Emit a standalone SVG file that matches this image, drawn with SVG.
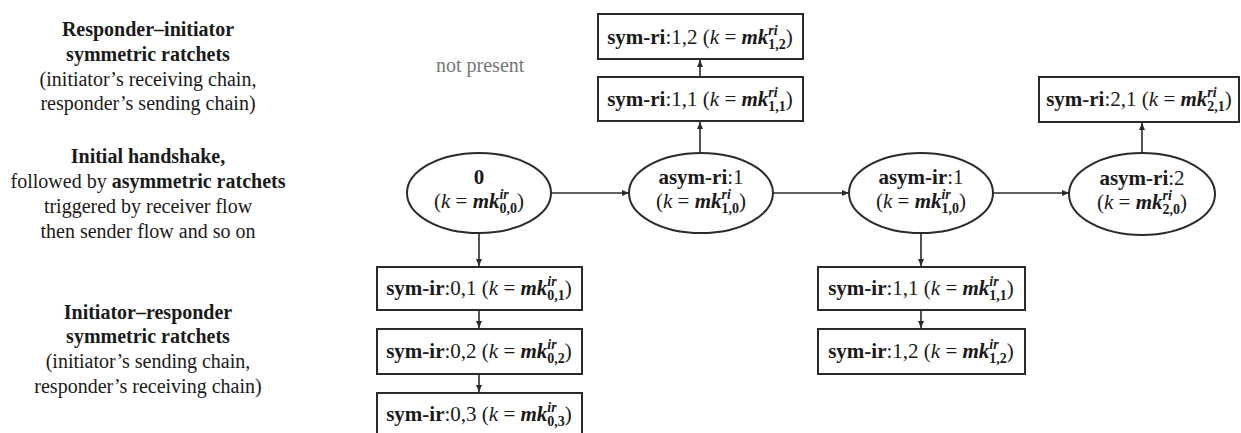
<svg xmlns="http://www.w3.org/2000/svg" width="1241" height="433" viewBox="0 0 1241 433">
<style>
.side{font-family:'Liberation Serif','Times New Roman',serif;font-size:20px;fill:#1a1a1a;text-anchor:middle}
.b{font-weight:bold}
.lbl{font-family:'Liberation Serif','Times New Roman',serif;font-size:21px;fill:#1a1a1a;text-anchor:middle}
.i{font-style:italic}
.bi{font-style:italic;font-weight:bold}
.sup{font-style:italic;font-weight:bold;font-size:14px}
.sub{font-weight:bold;font-size:14px}
.node{fill:#fff;stroke:#2a2a2a;stroke-width:2}
.edge{stroke:#2a2a2a;stroke-width:1.6;fill:none;marker-end:url(#ah)}
.np{font-family:'Liberation Serif','Times New Roman',serif;font-size:20px;fill:#777}
</style>
<defs>
<marker id="ah" markerUnits="userSpaceOnUse" markerWidth="8" markerHeight="6" refX="7" refY="3" orient="auto">
<path d="M0,0 L7,3 L0,6 z" fill="#2a2a2a"/>
</marker>
</defs>
<rect width="1241" height="433" fill="#fff"/>

<g id="side-labels">
<text class="side b" x="148" y="36">Responder–initiator</text>
<text class="side b" x="148" y="61">symmetric ratchets</text>
<text class="side" x="148" y="86">(initiator’s receiving chain,</text>
<text class="side" x="148" y="110">responder’s sending chain)</text>
<text class="side b" x="148" y="163">Initial handshake,</text>
<text class="side" x="148" y="188">followed by <tspan class="b">asymmetric ratchets</tspan></text>
<text class="side" x="148" y="213">triggered by receiver flow</text>
<text class="side" x="148" y="238">then sender flow and so on</text>
<text class="side b" x="148" y="319">Initiator–responder</text>
<text class="side b" x="148" y="343">symmetric ratchets</text>
<text class="side" x="148" y="368">(initiator’s sending chain,</text>
<text class="side" x="148" y="393">responder’s receiving chain)</text>
</g>

<text id="not-present" class="np" x="436" y="72">not present</text>

<g id="connectors">
<line class="edge" x1="551" y1="193" x2="629" y2="193"/>
<line class="edge" x1="773" y1="193" x2="849" y2="193"/>
<line class="edge" x1="993" y1="193" x2="1069" y2="193"/>
<line class="edge" x1="479" y1="233" x2="479" y2="266"/>
<line class="edge" x1="479" y1="310" x2="479" y2="328"/>
<line class="edge" x1="479" y1="374" x2="479" y2="392"/>
<line class="edge" x1="700" y1="153" x2="700" y2="122"/>
<line class="edge" x1="700" y1="77" x2="700" y2="60"/>
<line class="edge" x1="1142" y1="153" x2="1142" y2="123"/>
<line class="edge" x1="921" y1="233" x2="921" y2="266"/>
<line class="edge" x1="921" y1="310" x2="921" y2="328"/>
</g>

<g id="n0">
<ellipse class="node" cx="479" cy="193" rx="72" ry="40"/>
<text class="lbl" x="479" y="184"><tspan class="b">0</tspan></text>
<text class="lbl" x="479" y="208">(<tspan class="i">k</tspan> = <tspan class="bi">mk</tspan><tspan class="sup" dy="-9">ir</tspan><tspan class="sub" dx="-9.3" dy="14">0,0</tspan><tspan dy="-5">)</tspan></text>
</g>
<g id="asym-ri-1">
<ellipse class="node" cx="701" cy="193" rx="72" ry="40"/>
<text class="lbl" x="701" y="184"><tspan class="b">asym-ri</tspan>:1</text>
<text class="lbl" x="701" y="208">(<tspan class="i">k</tspan> = <tspan class="bi">mk</tspan><tspan class="sup" dy="-9">ri</tspan><tspan class="sub" dx="-9.3" dy="14">1,0</tspan><tspan dy="-5">)</tspan></text>
</g>
<g id="asym-ir-1">
<ellipse class="node" cx="921" cy="193" rx="72" ry="40"/>
<text class="lbl" x="921" y="184"><tspan class="b">asym-ir</tspan>:1</text>
<text class="lbl" x="921" y="208">(<tspan class="i">k</tspan> = <tspan class="bi">mk</tspan><tspan class="sup" dy="-9">ir</tspan><tspan class="sub" dx="-9.3" dy="14">1,0</tspan><tspan dy="-5">)</tspan></text>
</g>
<g id="asym-ri-2">
<ellipse class="node" cx="1142" cy="194" rx="73" ry="41"/>
<text class="lbl" x="1142" y="185"><tspan class="b">asym-ri</tspan>:2</text>
<text class="lbl" x="1142" y="209">(<tspan class="i">k</tspan> = <tspan class="bi">mk</tspan><tspan class="sup" dy="-9">ri</tspan><tspan class="sub" dx="-9.3" dy="14">2,0</tspan><tspan dy="-5">)</tspan></text>
</g>

<g id="sym-ri-1-2">
<rect class="node" x="598" y="14" width="205" height="45"/>
<text class="lbl" x="700" y="44"><tspan class="b">sym-ri</tspan>:1,2 (<tspan class="i">k</tspan> = <tspan class="bi">mk</tspan><tspan class="sup" dy="-9">ri</tspan><tspan class="sub" dx="-9.3" dy="14">1,2</tspan><tspan dy="-5">)</tspan></text>
</g>
<g id="sym-ri-1-1">
<rect class="node" x="598" y="77" width="205" height="44"/>
<text class="lbl" x="700" y="106"><tspan class="b">sym-ri</tspan>:1,1 (<tspan class="i">k</tspan> = <tspan class="bi">mk</tspan><tspan class="sup" dy="-9">ri</tspan><tspan class="sub" dx="-9.3" dy="14">1,1</tspan><tspan dy="-5">)</tspan></text>
</g>
<g id="sym-ri-2-1">
<rect class="node" x="1039" y="77" width="200" height="45"/>
<text class="lbl" x="1139" y="106"><tspan class="b">sym-ri</tspan>:2,1 (<tspan class="i">k</tspan> = <tspan class="bi">mk</tspan><tspan class="sup" dy="-9">ri</tspan><tspan class="sub" dx="-9.3" dy="14">2,1</tspan><tspan dy="-5">)</tspan></text>
</g>
<g id="sym-ir-0-1">
<rect class="node" x="377" y="267" width="205" height="43"/>
<text class="lbl" x="479" y="295"><tspan class="b">sym-ir</tspan>:0,1 (<tspan class="i">k</tspan> = <tspan class="bi">mk</tspan><tspan class="sup" dy="-9">ir</tspan><tspan class="sub" dx="-9.3" dy="14">0,1</tspan><tspan dy="-5">)</tspan></text>
</g>
<g id="sym-ir-0-2">
<rect class="node" x="377" y="329" width="205" height="45"/>
<text class="lbl" x="479" y="358"><tspan class="b">sym-ir</tspan>:0,2 (<tspan class="i">k</tspan> = <tspan class="bi">mk</tspan><tspan class="sup" dy="-9">ir</tspan><tspan class="sub" dx="-9.3" dy="14">0,2</tspan><tspan dy="-5">)</tspan></text>
</g>
<g id="sym-ir-0-3">
<rect class="node" x="377" y="393" width="205" height="45"/>
<text class="lbl" x="479" y="421"><tspan class="b">sym-ir</tspan>:0,3 (<tspan class="i">k</tspan> = <tspan class="bi">mk</tspan><tspan class="sup" dy="-9">ir</tspan><tspan class="sub" dx="-9.3" dy="14">0,3</tspan><tspan dy="-5">)</tspan></text>
</g>
<g id="sym-ir-1-1">
<rect class="node" x="818" y="267" width="207" height="43"/>
<text class="lbl" x="921" y="295"><tspan class="b">sym-ir</tspan>:1,1 (<tspan class="i">k</tspan> = <tspan class="bi">mk</tspan><tspan class="sup" dy="-9">ir</tspan><tspan class="sub" dx="-9.3" dy="14">1,1</tspan><tspan dy="-5">)</tspan></text>
</g>
<g id="sym-ir-1-2">
<rect class="node" x="818" y="329" width="207" height="45"/>
<text class="lbl" x="921" y="358"><tspan class="b">sym-ir</tspan>:1,2 (<tspan class="i">k</tspan> = <tspan class="bi">mk</tspan><tspan class="sup" dy="-9">ir</tspan><tspan class="sub" dx="-9.3" dy="14">1,2</tspan><tspan dy="-5">)</tspan></text>
</g>
</svg>
